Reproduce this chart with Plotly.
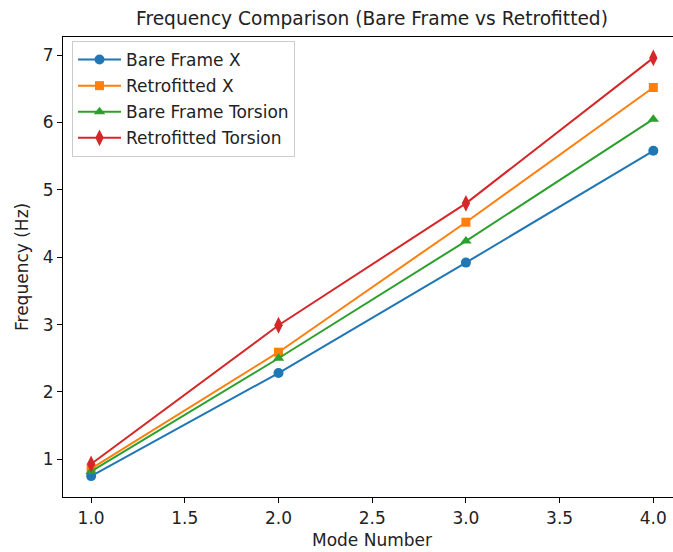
import plotly.graph_objects as go

modes = [1.0, 2.0, 3.0, 4.0]
bare_x = [0.75, 2.28, 3.92, 5.58]
retro_x = [0.86, 2.59, 4.52, 6.52]
bare_torsion = [0.82, 2.50, 4.24, 6.05]
retro_torsion = [0.93, 2.99, 4.80, 6.96]

series = [
    ("Bare Frame X", bare_x, "#1f77b4", "circle", 10),
    ("Retrofitted X", retro_x, "#ff7f0e", "square", 9),
    ("Bare Frame Torsion", bare_torsion, "#2ca02c", "triangle-up", 10),
    ("Retrofitted Torsion", retro_torsion, "#d62728", "diamond-tall", 12),
]

fig = go.Figure()
for i, (name, vals, color, sym, size) in enumerate(series):
    fig.add_trace(go.Scatter(
        x=modes, y=vals, name=name, mode="lines+markers", legendgroup=f"g{i}",
        line=dict(color=color, width=2),
        marker=dict(symbol=sym, size=size, color=color),
    ))

font = "DejaVu Sans, sans-serif"
W, H = 673, 552
L, R, T, B = 63, 673, 37, 497


def px(xp):
    return (xp - L) / (R - L)


def py(yp):
    return (B - yp) / (B - T)


fig.update_layout(
    width=W, height=H,
    paper_bgcolor="white", plot_bgcolor="white",
    margin=dict(l=L, r=W - R, t=T, b=H - B, autoexpand=False),
    font=dict(family=font, size=17, color="#222222"),
    title=dict(text="Frequency Comparison (Bare Frame vs Retrofitted)",
               x=372 / W, xanchor="center", y=1 - 18 / H, yanchor="middle",
               font=dict(size=18.6, family=font, color="#222222")),
    showlegend=True,
    legend=dict(x=px(72), y=py(41), xanchor="left", yanchor="top",
                bgcolor="rgba(255,255,255,0.8)", bordercolor="#cccccc", borderwidth=1,
                tracegroupgap=1, itemwidth=43,
                font=dict(size=17, family=font, color="#222222")),
    xaxis=dict(range=[0.85, 4.105], tickvals=[1.0, 1.5, 2.0, 2.5, 3.0, 3.5, 4.0],
               ticktext=["1.0", "1.5", "2.0", "2.5", "3.0", "3.5", "4.0"],
               automargin=False,
               showgrid=False, zeroline=False, showline=True, linecolor="black",
               linewidth=1.2, mirror=True, ticks="outside", ticklen=5,
               tickcolor="black", tickfont=dict(size=17)),
    yaxis=dict(range=[0.44, 7.27], tickvals=[1, 2, 3, 4, 5, 6, 7],
               automargin=False,
               showgrid=False, zeroline=False, showline=True, linecolor="black",
               linewidth=1.2, mirror=False, ticks="outside", ticklen=5,
               tickcolor="black", tickfont=dict(size=17)),
    annotations=[
        dict(text="Mode Number", x=px(372), y=py(540), xref="paper", yref="paper",
             xanchor="center", yanchor="middle", showarrow=False, font=dict(size=17)),
        dict(text="Frequency (Hz)", x=px(22), y=py(267), xref="paper", yref="paper",
             xanchor="center", yanchor="middle", showarrow=False, textangle=-90,
             font=dict(size=17)),
    ],
)

fig.write_html("out.html", config={"displayModeBar": False},
               post_script="document.body.style.margin='0';document.body.style.overflow='hidden';")
